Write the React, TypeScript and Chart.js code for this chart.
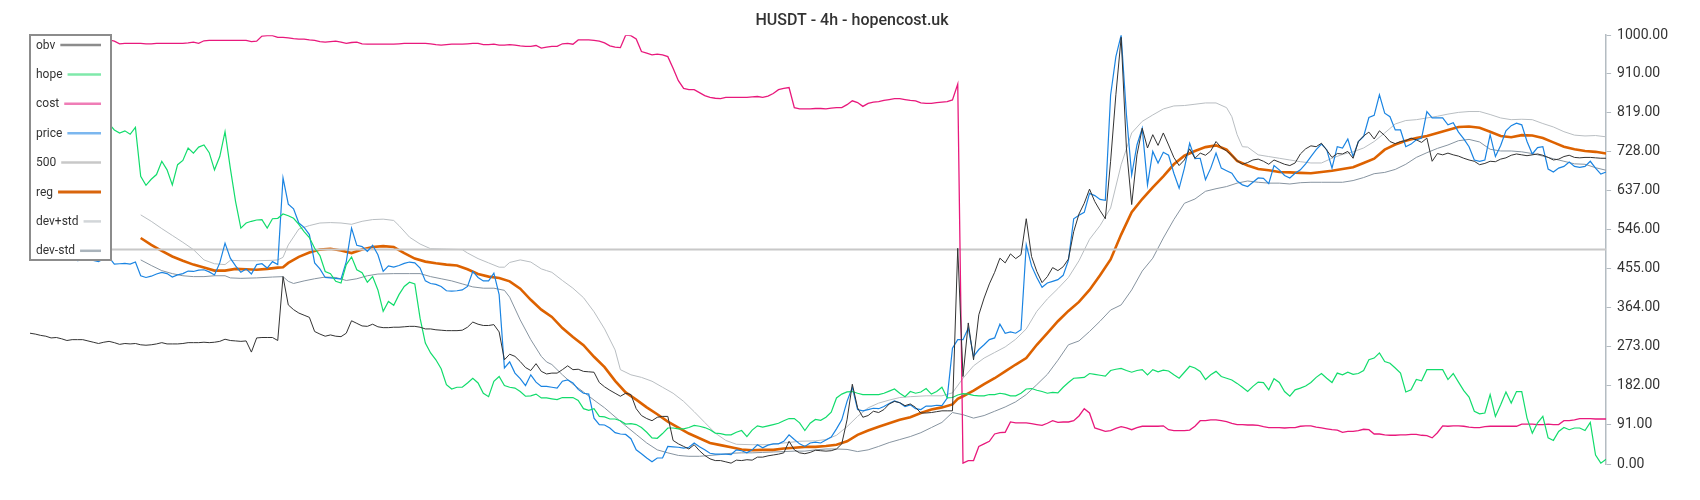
import React, { useEffect, useRef } from 'react';
import { Chart, registerables } from 'chart.js';

Chart.register(...registerables);

const titleText = 'HUSDT - 4h - hopencost.uk';
const seriesNames = ['obv', 'hope', 'cost', 'price', '500', 'reg', 'dev+std', 'dev-std'];
const yTicks = [0, 91, 182, 273, 364, 455, 546, 637, 728, 819, 910, 1000];
const level500 = 500;
const pointCount = 300;

const obv = [
  305,303,300,298,294,295,292,288,290,290,
  290,287,284,281,284,286,283,279,281,280,
  281,278,277,278,280,283,280,280,280,281,
  283,283,283,284,283,284,286,291,288,287,
  286,287,261,294,295,295,295,288,437,371,
  360,352,347,342,309,303,298,301,298,297,
  305,334,328,322,321,326,320,318,318,319,
  319,320,321,321,319,315,315,313,312,311,
  311,311,312,319,331,326,323,323,325,308,
  243,256,251,239,225,218,234,216,210,212,
  212,220,229,220,221,216,215,214,190,180,
  172,165,158,165,162,129,113,106,101,109,
  111,111,55,47,41,35,45,31,20,12,
  8,8,5,2,9,8,10,9,16,16,
  19,21,23,26,53,33,26,24,27,32,
  31,30,31,35,47,103,186,131,109,113,
  123,120,127,140,146,143,136,140,132,119,
  119,120,122,124,124,124,503,204,329,243,
  348,387,420,447,480,469,490,479,488,572,
  484,449,423,437,458,451,460,478,542,583,
  608,641,612,591,572,706,861,995,737,605,
  721,783,737,768,743,772,744,715,696,709,
  735,713,725,720,730,752,738,730,720,707,
  699,703,709,711,706,699,709,704,699,696,
  702,723,735,742,740,748,732,715,724,723,
  729,713,752,765,774,758,777,766,752,747,
  752,754,760,756,750,760,706,724,721,725,
  721,718,713,709,706,698,701,706,705,711,
  714,720,723,721,719,721,723,720,715,709,
  711,717,720,715,714,715,715,714,713,713,
];

const hope = [
  783,787,779,791,783,775,787,783,791,779,
  775,783,791,787,791,793,779,772,777,769,
  785,671,650,664,675,706,686,651,698,708,
  737,725,739,744,726,686,717,775,690,612,
  550,562,566,569,570,550,572,573,583,579,
  573,559,542,528,503,486,449,444,426,422,
  465,483,453,446,424,437,406,356,379,370,
  395,414,424,420,340,282,259,243,222,185,
  175,179,179,189,200,189,165,157,193,204,
  183,179,177,169,158,159,163,154,154,152,
  150,155,155,155,148,129,125,129,111,110,
  105,105,101,93,94,92,85,74,61,60,
  71,84,84,82,82,85,90,88,85,80,
  72,71,68,68,74,78,64,79,89,86,
  89,92,95,101,106,106,96,78,95,104,
  102,109,121,154,163,168,169,165,162,162,
  162,162,165,170,175,165,157,169,165,168,
  176,163,169,179,154,155,161,164,163,160,
  159,159,162,162,165,163,159,159,165,175,
  176,172,169,165,167,166,179,190,200,201,
  202,211,209,207,205,218,221,223,218,214,
  218,220,208,220,215,219,217,208,200,214,
  228,224,216,197,208,216,204,200,196,188,
  179,169,181,191,190,173,199,190,169,158,
  173,177,182,190,202,211,200,190,212,208,
  214,209,211,218,243,247,259,239,235,224,
  212,168,173,197,194,220,220,220,220,197,
  211,191,171,156,123,117,119,162,111,138,
  168,142,169,169,107,72,96,111,61,55,
  76,85,80,84,84,78,97,21,2,11,
];

const cost = [
  987,985,984,987,988,985,984,985,987,985,
  984,982,985,987,988,989,986,980,981,981,
  981,981,980,980,981,981,981,981,981,981,
  982,984,981,987,988,988,988,988,988,988,
  988,988,985,986,998,999,999,995,995,994,
  992,991,991,989,988,985,984,985,986,984,
  981,983,984,980,979,979,979,979,979,979,
  980,981,981,981,981,981,980,978,977,978,
  979,979,979,980,981,981,978,978,979,977,
  977,978,977,975,974,974,976,970,972,974,
  974,980,981,979,989,989,989,988,986,982,
  975,972,971,1000,999,991,962,958,954,956,
  954,950,923,894,876,873,873,866,859,855,
  853,852,855,855,855,855,855,856,857,855,
  858,864,873,876,878,831,828,828,828,829,
  829,828,830,831,831,838,847,843,834,841,
  844,845,848,850,852,852,850,848,847,842,
  841,841,843,844,845,849,886,2,8,8,
  41,47,53,70,73,74,98,96,96,96,
  94,92,90,95,101,97,98,98,101,112,
  129,119,84,80,76,78,83,87,84,80,
  85,88,88,88,88,89,80,78,78,78,
  79,88,101,101,103,103,101,99,95,92,
  92,91,91,90,87,85,85,85,84,85,
  85,88,89,89,86,84,82,80,79,74,
  76,76,78,81,80,70,70,68,67,67,
  68,68,69,69,67,66,61,73,89,88,
  89,89,88,86,85,85,87,88,88,88,
  88,88,88,93,93,93,92,92,93,92,
  92,101,101,103,106,106,106,105,105,105,
];

const price = [
  488,484,480,486,482,478,480,484,479,474,
  476,480,475,472,479,482,466,467,468,466,
  471,439,435,438,443,447,444,436,441,444,
  450,449,452,453,448,441,469,515,480,462,
  447,455,443,465,467,457,472,465,667,606,
  595,562,552,535,469,455,435,434,433,431,
  472,550,510,507,496,510,488,449,462,459,
  463,468,471,469,457,427,421,419,414,404,
  403,404,406,414,449,435,427,427,445,395,
  224,238,212,199,183,208,191,181,181,179,
  177,193,196,189,174,165,163,107,92,91,
  84,73,70,69,59,33,24,14,5,14,
  14,41,40,39,37,39,49,40,33,25,
  23,23,23,22,33,31,26,33,45,38,
  44,47,47,53,68,57,47,41,49,51,
  49,56,63,82,103,146,179,127,124,127,
  130,129,134,141,147,143,134,138,129,127,
  135,135,137,136,154,270,290,290,317,251,
  267,278,290,294,326,305,308,305,313,511,
  462,435,412,422,426,430,440,475,572,580,
  587,631,626,617,615,860,950,1000,815,674,
  744,783,651,729,702,727,720,678,643,690,
  748,712,713,663,690,725,690,684,678,660,
  651,647,657,667,666,654,696,686,673,667,
  678,686,700,717,733,746,733,690,740,737,
  758,717,752,764,808,813,861,818,810,779,
  779,740,746,756,760,822,807,807,807,791,
  796,774,758,740,709,706,709,768,717,743,
  777,789,795,791,752,723,738,740,688,681,
  690,694,704,694,692,694,706,690,676,681,
];

// [bar index, value] samples
const regPoints = [
  [21,527],[23,511],[25,497],[27,484],[29,474],[31,465],[33,458],[35,451],[37,451],[39,455],
  [41,454],[43,453],[45,455],[47,458],[48,459],[49,469],[51,483],[53,493],[55,500],[57,502],
  [59,498],[61,492],[63,500],[65,506],[67,508],[69,506],[71,492],[73,479],[75,472],[77,468],
  [79,465],[81,463],[83,454],[85,443],[87,437],[89,434],[91,426],[93,409],[95,383],[97,360],
  [99,343],[101,317],[103,296],[105,277],[107,250],[109,226],[111,194],[113,167],[115,150],[117,132],
  [119,116],[121,99],[123,85],[125,71],[127,60],[129,49],[131,44],[133,39],[135,34],[137,32],
  [139,33],[141,33],[143,36],[145,38],[147,40],[149,40],[151,42],[153,45],[155,53],[157,68],
  [159,78],[161,87],[163,95],[165,103],[167,109],[169,119],[171,127],[173,132],[175,139],[176,152],
  [177,158],[179,171],[181,186],[183,200],[185,216],[187,232],[189,247],[191,278],[193,305],[195,333],
  [197,357],[199,378],[201,406],[203,440],[205,477],[207,535],[209,587],[211,618],[213,645],[215,671],
  [217,699],[219,719],[221,730],[223,739],[225,743],[227,733],[229,707],[231,696],[233,688],[235,685],
  [237,681],[239,680],[241,679],[243,678],[245,681],[247,684],[249,688],[251,692],[253,702],[255,712],
  [257,733],[259,745],[261,754],[263,760],[265,765],[267,772],[269,779],[271,786],[273,787],[275,784],
  [277,775],[279,765],[281,762],[283,767],[285,766],[287,760],[289,750],[291,740],[293,734],[295,730],
  [297,728],[299,724],
];

const devPlusPoints = [
  [21,581],[23,566],[25,549],[27,533],[29,517],[31,500],[33,476],[35,467],[37,465],[38,475],
  [40,474],[43,474],[46,475],[47,476],[48,482],[49,511],[51,548],[53,556],[55,562],[57,563],
  [59,562],[61,559],[63,566],[65,570],[67,571],[69,568],[70,556],[72,529],[74,513],[76,502],
  [79,501],[82,500],[83,492],[85,479],[87,469],[89,459],[90,459],[91,470],[93,476],[95,471],
  [97,455],[98,451],[99,447],[101,428],[103,410],[105,388],[107,355],[109,315],[111,266],[112,220],
  [114,208],[116,202],[118,193],[120,179],[122,165],[124,146],[126,122],[128,97],[130,72],[132,55],
  [134,46],[137,45],[140,45],[143,49],[146,53],[149,54],[151,57],[153,67],[155,87],[157,111],
  [159,131],[161,142],[163,149],[165,155],[167,157],[170,159],[173,159],[175,166],[177,200],[179,229],
  [181,247],[183,260],[185,273],[187,291],[189,315],[191,356],[193,385],[195,409],[197,435],[199,474],
  [201,524],[203,556],[205,597],[207,698],[209,772],[211,799],[213,814],[215,828],[217,835],[219,836],
  [221,839],[223,842],[225,842],[227,831],[228,810],[229,768],[230,740],[231,739],[233,721],[235,717],
  [237,713],[239,709],[241,705],[243,702],[245,702],[247,713],[249,722],[251,728],[253,737],[255,752],
  [257,772],[259,793],[261,801],[263,803],[265,807],[267,811],[269,816],[271,820],[273,822],[275,822],
  [277,815],[279,807],[281,803],[283,804],[285,803],[287,794],[289,786],[291,775],[293,767],[295,765],
  [297,766],[299,763],
];

const devMinusPoints = [
  [21,476],[23,463],[25,451],[27,444],[29,439],[31,437],[33,437],[35,439],[37,439],[38,434],
  [40,433],[43,434],[46,436],[48,437],[49,426],[50,421],[52,427],[54,432],[56,436],[58,435],
  [60,428],[62,432],[64,439],[66,443],[69,444],[72,444],[74,444],[76,437],[78,432],[80,427],
  [82,420],[84,413],[86,410],[88,410],[90,405],[91,389],[93,336],[95,290],[97,251],[98,238],
  [99,232],[101,208],[103,186],[105,168],[107,149],[109,131],[111,110],[113,89],[115,69],[117,49],
  [119,33],[121,26],[123,20],[125,18],[127,18],[129,20],[131,22],[133,25],[135,26],[137,26],
  [139,27],[141,28],[143,29],[145,30],[147,30],[149,33],[151,35],[153,35],[155,34],[157,29],
  [159,33],[161,41],[163,50],[165,57],[167,64],[169,73],[171,85],[173,97],[175,120],[177,115],
  [179,107],[181,113],[183,123],[185,133],[187,145],[189,162],[191,185],[193,209],[195,242],[197,278],
  [199,287],[201,309],[203,333],[205,359],[207,371],[209,406],[211,450],[213,480],[215,527],[217,570],
  [219,608],[221,618],[223,636],[225,642],[227,647],[229,655],[231,660],[233,657],[235,655],[237,655],
  [239,653],[241,656],[243,657],[245,657],[247,657],[249,657],[251,661],[253,668],[255,677],[257,680],
  [259,687],[261,699],[263,715],[265,726],[267,736],[269,744],[271,754],[273,757],[275,751],[277,734],
  [279,730],[281,730],[283,728],[285,724],[287,718],[289,712],[291,706],[293,700],[295,699],[297,691],
  [299,685],
];

const lineColors = ['#333333', '#12dc6c', '#e8197c', '#1a84e2', '#c8c8c8', '#dd6200', '#b9bec2', '#8794a0'];
const legendColors = ['#8c8c8c', '#7fe9aa', '#ef7db6', '#7cb7ef', '#c8c8c8', '#d9650c', '#d2d6d9', '#a9b3bb'];
const lineWidths = [1, 1.2, 1.3, 1.2, 2, 2.6, 1, 1];

const byIndex = (arr: number[]) => arr.map((y, i) => ({ x: i, y }));
const byPairs = (arr: number[][]) => arr.map(([x, y]) => ({ x, y }));

const boxLegend = {
  id: 'boxLegend',
  afterDraw(chart: any) {
    const { ctx, chartArea } = chart;
    const left = Math.round(chartArea.left);
    const top = Math.round(chartArea.top);
    const w = 81;
    const h = 225;
    ctx.save();
    ctx.fillStyle = '#ffffff';
    ctx.fillRect(left, top, w, h);
    ctx.strokeStyle = '#8c8c8c';
    ctx.lineWidth = 2;
    ctx.strokeRect(left, top, w, h);
    ctx.font = '12px Roboto';
    ctx.textBaseline = 'middle';
    ctx.textAlign = 'left';
    seriesNames.forEach((name, k) => {
      const y = top + 10 + k * 29.4;
      ctx.fillStyle = '#333333';
      ctx.fillText(name, left + 6, y + 0.5);
      const tw = ctx.measureText(name).width;
      ctx.strokeStyle = legendColors[k];
      ctx.lineWidth = k === 5 ? 3 : 2.5;
      ctx.beginPath();
      ctx.moveTo(left + 6 + tw + 5, y);
      ctx.lineTo(left + w - 10, y);
      ctx.stroke();
    });
    ctx.restore();
  },
};

export default function App() {
  const canvasRef = useRef<HTMLCanvasElement | null>(null);

  useEffect(() => {
    const canvas = canvasRef.current;
    if (!canvas) return;
    const seriesData = [
      byIndex(obv),
      byIndex(hope),
      byIndex(cost),
      byIndex(price),
      [{ x: 0, y: level500 }, { x: pointCount - 1, y: level500 }],
      byPairs(regPoints),
      byPairs(devPlusPoints),
      byPairs(devMinusPoints),
    ];
    const datasets = seriesNames.map((name, k) => ({
      label: name,
      data: seriesData[k],
      borderColor: lineColors[k],
      backgroundColor: lineColors[k],
      borderWidth: lineWidths[k],
      pointRadius: 0,
      tension: 0,
      fill: false,
    }));
    const chart = new Chart(canvas, {
      type: 'line',
      data: { datasets },
      options: {
        animation: false,
        responsive: true,
        maintainAspectRatio: false,
        layout: { padding: { left: 22, right: 18, top: 0, bottom: 28 } },
        plugins: {
          legend: { display: false },
          tooltip: { enabled: false },
          title: {
            display: true,
            text: titleText,
            color: '#333333',
            font: { family: 'Roboto', size: 16, weight: '500' },
            padding: { top: 3, bottom: 5 },
          },
        },
        scales: {
          x: { type: 'linear', min: 0, max: pointCount - 1, display: false },
          y: {
            position: 'right',
            min: 0,
            max: 1000,
            afterBuildTicks: (scale: any) => {
              scale.ticks = yTicks.map((v) => ({ value: v }));
            },
            ticks: {
              callback: (v: any) => Number(v).toFixed(2),
              color: '#333333',
              font: { family: 'Roboto', size: 14 },
              padding: 6,
            },
            grid: { drawOnChartArea: false, drawTicks: true, tickLength: 5, color: '#b4bcc2' },
            border: { display: true, color: '#b4bcc2', width: 1.5 },
          },
        },
      },
      plugins: [boxLegend],
    } as any);
    return () => chart.destroy();
  }, []);

  return (
    <div style={{ position: 'relative', width: 1684, height: 484 }}>
      <canvas ref={canvasRef} />
    </div>
  );
}
